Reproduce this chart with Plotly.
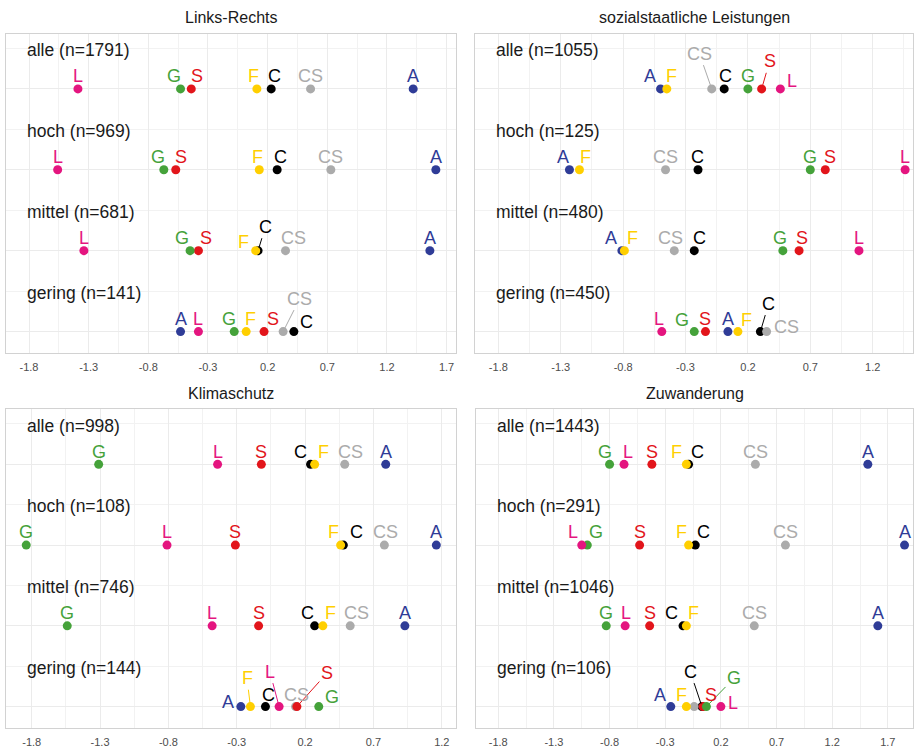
import plotly.graph_objects as go

# ---------------- data ----------------
panel_titles = ["Links-Rechts", "sozialstaatliche Leistungen", "Klimaschutz", "Zuwanderung"]
groups = ["alle", "hoch", "mittel", "gering"]
parties = ["L", "G", "S", "F", "C", "CS", "A"]

n_links = [1791, 969, 681, 141]
n_sozial = [1055, 125, 480, 450]
n_klima = [998, 108, 746, 144]
n_zuw = [1443, 291, 1046, 106]

# values in party order L, G, S, F, C, CS, A
lr_alle = [-1.39, -0.53, -0.44, 0.11, 0.23, 0.56, 1.42]
lr_hoch = [-1.56, -0.67, -0.57, 0.13, 0.28, 0.73, 1.61]
lr_mittel = [-1.34, -0.45, -0.38, 0.10, 0.12, 0.35, 1.56]
lr_gering = [-0.38, -0.08, 0.17, 0.02, 0.42, 0.33, -0.53]

so_alle = [0.46, 0.20, 0.31, -0.45, 0.01, -0.09, -0.50]
so_hoch = [1.46, 0.70, 0.82, -1.15, -0.20, -0.46, -1.23]
so_mittel = [1.09, 0.48, 0.61, -0.79, -0.23, -0.39, -0.81]
so_gering = [-0.49, -0.23, -0.14, 0.12, 0.30, 0.35, 0.04]

kl_alle = [-0.44, -1.31, -0.12, 0.27, 0.24, 0.49, 0.79]
kl_hoch = [-0.81, -1.84, -0.31, 0.46, 0.48, 0.78, 1.16]
kl_mittel = [-0.48, -1.54, -0.14, 0.33, 0.27, 0.53, 0.93]
kl_gering = [0.01, 0.30, 0.14, -0.20, -0.09, 0.13, -0.27]

zu_alle = [-0.67, -0.80, -0.42, -0.11, -0.09, 0.51, 1.52]
zu_hoch = [-1.05, -1.00, -0.53, -0.09, -0.03, 0.78, 1.85]
zu_mittel = [-0.66, -0.83, -0.44, -0.11, -0.14, 0.50, 1.61]
zu_gering = [0.20, 0.07, 0.04, -0.11, 0.03, -0.04, -0.25]

tick_vals = [-1.8, -1.3, -0.8, -0.3, 0.2, 0.7, 1.2, 1.7]
tick_text = ["-1.8", "-1.3", "-0.8", "-0.3", "0.2", "0.7", "1.2", "1.7"]

# ---------------- styling ----------------
party_colors = {
    "L": "#E4157F", "G": "#45A23A", "S": "#E2151B", "F": "#FFCF00",
    "C": "#000000", "CS": "#ABABAB", "A": "#2F3C97",
}
draw_order = ["C", "CS", "A", "S", "G", "L", "F"]
row_y = [4, 3, 2, 1]

W, H = 919, 749
# panel pixel boxes: (left, right, top, bottom)
boxes = [(6, 456, 33.5, 353), (475, 913, 33.5, 353),
         (6, 456, 409, 728), (476, 913, 409, 728)]
x_ranges = [(-1.993, 1.779), (-1.987, 1.523), (-1.988, 1.304), (-2.0, 1.926)]
y_range = (0.735, 4.685)

# label offsets (px, cap centre relative to dot centre); third item = leader line
DEF_DY = -12.6
label_offsets = {
    (0, 0, "G"): (-6.7, DEF_DY), (0, 0, "S"): (5.7, DEF_DY), (0, 0, "F"): (-3, DEF_DY), (0, 0, "C"): (3, DEF_DY),
    (0, 1, "G"): (-5.7, DEF_DY), (0, 1, "S"): (5.7, DEF_DY), (0, 1, "F"): (-2, DEF_DY), (0, 1, "C"): (3.3, DEF_DY),
    (0, 2, "G"): (-8, DEF_DY), (0, 2, "S"): (7.4, DEF_DY), (0, 2, "F"): (-12.4, -9),
    (0, 2, "C"): (7.3, -24, True), (0, 2, "CS"): (8, DEF_DY),
    (0, 3, "G"): (-5.7, DEF_DY), (0, 3, "F"): (4.7, DEF_DY), (0, 3, "S"): (9, DEF_DY),
    (0, 3, "CS"): (16.7, -33, True), (0, 3, "C"): (13, -9.6),

    (1, 0, "A"): (-11, DEF_DY), (1, 0, "F"): (4.4, DEF_DY), (1, 0, "CS"): (-12.3, -35.3, True),
    (1, 0, "C"): (1.3, DEF_DY), (1, 0, "S"): (8, -27.6, True), (1, 0, "L"): (12, -7.6),
    (1, 1, "A"): (-6.7, DEF_DY), (1, 1, "F"): (6.4, DEF_DY), (1, 1, "S"): (4.3, DEF_DY),
    (1, 2, "A"): (-11, DEF_DY), (1, 2, "F"): (8, DEF_DY), (1, 2, "CS"): (-4, DEF_DY),
    (1, 2, "C"): (5, DEF_DY), (1, 2, "G"): (-2.7, DEF_DY), (1, 2, "S"): (3.4, DEF_DY),
    (1, 3, "L"): (-2.7, DEF_DY), (1, 3, "G"): (-12, -12), (1, 3, "F"): (9, -12),
    (1, 3, "C"): (8.3, -28, True), (1, 3, "CS"): (19.7, -4.6),

    (2, 0, "C"): (-9.7, DEF_DY), (2, 0, "F"): (8.4, DEF_DY), (2, 0, "CS"): (5.7, DEF_DY),
    (2, 1, "F"): (-6.7, DEF_DY), (2, 1, "C"): (12.7, DEF_DY), (2, 1, "CS"): (1, DEF_DY),
    (2, 2, "C"): (-6.7, DEF_DY), (2, 2, "F"): (7.7, DEF_DY), (2, 2, "CS"): (6.6, DEF_DY),
    (2, 3, "A"): (-12.4, -5), (2, 3, "F"): (-3.4, -28.4, True), (2, 3, "C"): (2.6, -11.7),
    (2, 3, "L"): (-9.3, -35, True), (2, 3, "CS"): (1, -11.7), (2, 3, "S"): (30, -33.4, True),
    (2, 3, "G"): (13.7, -10),

    (3, 0, "G"): (-4.7, DEF_DY), (3, 0, "L"): (3.7, DEF_DY), (3, 0, "F"): (-10.3, DEF_DY), (3, 0, "C"): (8.4, DEF_DY),
    (3, 1, "L"): (-9, DEF_DY), (3, 1, "G"): (8.3, DEF_DY), (3, 1, "F"): (-7.3, DEF_DY), (3, 1, "C"): (8.3, DEF_DY),
    (3, 2, "L"): (1, DEF_DY), (3, 2, "C"): (-11.6, DEF_DY), (3, 2, "F"): (7, DEF_DY),
    (3, 3, "A"): (-10.7, -11.7), (3, 3, "F"): (-5, -11.7), (3, 3, "C"): (-11.7, -35, True),
    (3, 3, "S"): (8, -11.7), (3, 3, "G"): (27.6, -28.4, True), (3, 3, "L"): (12, -3.4),
    (3, 3, "CS"): None,
}

panel_values = [
    [lr_alle, lr_hoch, lr_mittel, lr_gering],
    [so_alle, so_hoch, so_mittel, so_gering],
    [kl_alle, kl_hoch, kl_mittel, kl_gering],
    [zu_alle, zu_hoch, zu_mittel, zu_gering],
]
panel_ns = [n_links, n_sozial, n_klima, n_zuw]

FONT = "Liberation Sans, Arial, Helvetica, sans-serif"
GRID = "#EBEBEB"
MINOR = "#F2F2F2"
BORDER = "#D2D2D2"

fig = go.Figure()
annotations = []
layout_axes = {}
minor_x = [-2.05, -1.55, -1.05, -0.55, -0.05, 0.45, 0.95, 1.45, 1.95]

for p in range(4):
    sfx = "" if p == 0 else str(p + 1)
    xa, ya = "x" + sfx, "y" + sfx
    l, r, t, b = boxes[p]
    layout_axes["xaxis" + sfx] = dict(
        domain=[l / W, r / W], range=list(x_ranges[p]), anchor=ya,
        tickvals=tick_vals, ticktext=tick_text, ticks="", ticklabelstandoff=4,
        tickfont=dict(size=11, color="#4D4D4D", family=FONT),
        showgrid=True, gridcolor=GRID, gridwidth=1,
        minor=dict(tickvals=minor_x, showgrid=True, gridcolor=MINOR, gridwidth=1),
        showline=True, linecolor=BORDER, linewidth=1, mirror=True, zeroline=False,
        fixedrange=True,
    )
    layout_axes["yaxis" + sfx] = dict(
        domain=[1 - b / H, 1 - t / H], range=list(y_range), anchor=xa,
        tickvals=[1, 2, 3, 4], showticklabels=False, ticks="",
        showgrid=True, gridcolor=GRID, gridwidth=1,
        minor=dict(tickvals=[1.5, 2.5, 3.5, 4.5], showgrid=True, gridcolor=MINOR, gridwidth=1),
        showline=True, linecolor=BORDER, linewidth=1, mirror=True, zeroline=False,
        fixedrange=True,
    )

    vals = panel_values[p]
    for party in draw_order:
        k = parties.index(party)
        fig.add_trace(go.Scatter(
            x=[vals[g][k] for g in range(4)], y=row_y,
            mode="markers", xaxis=xa, yaxis=ya, showlegend=False,
            marker=dict(size=9, color=party_colors[party], line=dict(width=0)),
            hoverinfo="skip",
        ))

    # party labels
    for g in range(4):
        for k, party in enumerate(parties):
            off = label_offsets.get((p, g, party), (0, DEF_DY))
            if off is None:
                continue
            dx, dy = off[0], off[1]
            arrow = len(off) > 2 and off[2]
            base = dict(x=vals[g][k], y=row_y[g], xref=xa, yref=ya, text=party,
                        font=dict(size=18, color=party_colors[party], family=FONT))
            if arrow:
                base.update(showarrow=True, ax=dx, ay=dy, arrowhead=0, arrowwidth=1,
                            arrowcolor=party_colors[party], standoff=3)
            else:
                base.update(showarrow=False, xshift=dx, yshift=-dy)
            annotations.append(base)

    # row labels
    for g in range(4):
        annotations.append(dict(
            x=0, xref=xa + " domain", y=row_y[g], yref=ya,
            xanchor="left", yanchor="middle", xshift=19, yshift=38.6,
            text=f"{groups[g]} (n={panel_ns[p][g]})", showarrow=False,
            font=dict(size=17.5, color="#1A1A1A", family=FONT),
        ))

    # panel title
    annotations.append(dict(
        x=0.5, xref=xa + " domain", y=1, yref=ya + " domain",
        xanchor="center", yanchor="middle", yshift=15.7,
        text=panel_titles[p], showarrow=False,
        font=dict(size=16, color="#1A1A1A", family=FONT),
    ))

fig.update_layout(
    width=W, height=H, margin=dict(l=0, r=0, t=0, b=0),
    paper_bgcolor="white", plot_bgcolor="white",
    annotations=annotations, showlegend=False,
    font=dict(family=FONT),
    **layout_axes,
)

fig.write_html(
    "out.html",
    config={"displayModeBar": False, "staticPlot": True},
    post_script="document.body.style.margin='0';document.body.style.padding='0';document.body.style.overflow='hidden';",
)
